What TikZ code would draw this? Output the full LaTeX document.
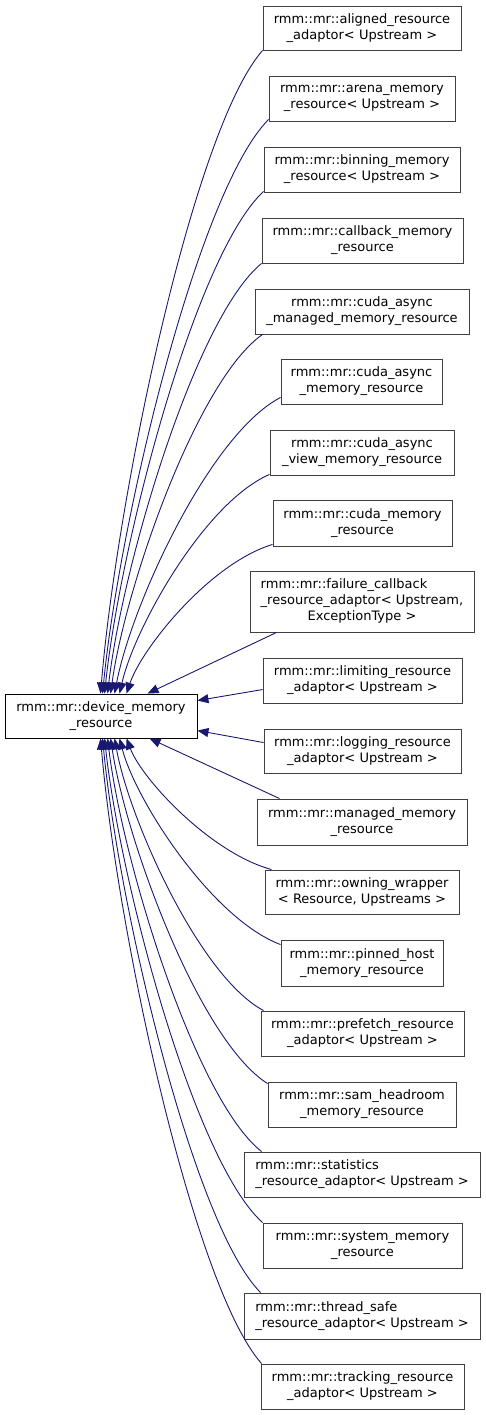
\documentclass[tikz,border=0pt]{standalone}
\usepackage{fontspec}
\setmainfont{DejaVu Sans}
\usetikzlibrary{arrows.meta,calc}
\definecolor{edgeblue}{HTML}{191970}
\definecolor{boxgray}{HTML}{404040}
\begin{document}
\begin{tikzpicture}[x=1pt,y=-1pt,
  font=\fontsize{13}{16}\selectfont,
  box/.style={draw=boxgray,line width=0.9pt,fill=white,inner sep=0pt,align=center},
  basebox/.style={box,draw=black},
  edge/.style={draw=edgeblue,line width=0.9pt,-{Triangle[length=11pt,width=9pt]}}]
\useasboundingbox (0,0) rectangle (485,1415);
\newcommand\bx[7][box]{\node[#1,minimum width={#5pt-#3pt},minimum height={#6pt-#4pt}] (#2) at ({(#3+#5)/2},{(#4+#6)/2}) {#7};}
\bx[basebox]{base}{5}{694}{197}{738}{rmm::mr::device\_memory\\\_resource}
\bx{c1}{263}{6}{461}{50}{rmm::mr::aligned\_resource\\\_adaptor< Upstream >}
\bx{c2}{269}{76}{455}{121}{rmm::mr::arena\_memory\\\_resource< Upstream >}
\bx{c3}{264}{147}{460}{192}{rmm::mr::binning\_memory\\\_resource< Upstream >}
\bx{c4}{262}{218}{463}{263}{rmm::mr::callback\_memory\\\_resource}
\bx{c5}{255}{289}{469}{334}{rmm::mr::cuda\_async\\\_managed\_memory\_resource}
\bx{c6}{281}{359}{442}{404}{rmm::mr::cuda\_async\\\_memory\_resource}
\bx{c7}{270}{430}{454}{475}{rmm::mr::cuda\_async\\\_view\_memory\_resource}
\bx{c8}{273}{500}{452}{546}{rmm::mr::cuda\_memory\\\_resource}
\bx{c9}{250}{571}{474}{632}{\begin{tabular}{@{}l@{}}rmm::mr::failure\_callback\\\_resource\_adaptor< Upstream,\\\multicolumn{1}{@{}c@{}}{ExceptionType >}\end{tabular}}
\bx{c10}{263}{658}{462}{703}{rmm::mr::limiting\_resource\\\_adaptor< Upstream >}
\bx{c11}{264}{729}{461}{773}{rmm::mr::logging\_resource\\\_adaptor< Upstream >}
\bx{c12}{257}{799}{467}{845}{rmm::mr::managed\_memory\\\_resource}
\bx{c13}{265}{870}{459}{914}{rmm::mr::owning\_wrapper\\< Resource, Upstreams >}
\bx{c14}{281}{940}{443}{986}{rmm::mr::pinned\_host\\\_memory\_resource}
\bx{c15}{261}{1011}{464}{1056}{rmm::mr::prefetch\_resource\\\_adaptor< Upstream >}
\bx{c16}{268}{1082}{456}{1127}{rmm::mr::sam\_headroom\\\_memory\_resource}
\bx[box,align=left]{c17}{244}{1152}{480}{1197}{rmm::mr::statistics\\\_resource\_adaptor< Upstream >}
\bx{c18}{263}{1223}{462}{1268}{rmm::mr::system\_memory\\\_resource}
\bx[box,align=left]{c19}{244}{1293}{480}{1339}{rmm::mr::thread\_safe\\\_resource\_adaptor< Upstream >}
\bx{c20}{261}{1364}{464}{1409}{rmm::mr::tracking\_resource\\\_adaptor< Upstream >}
% upper curved edges
\draw[edge] (c1.south west) .. controls +(-70,80) and +(16,-193) .. ($(base.north west)+(96,0)$);
\draw[edge] ($(c2.south west)+(0,-2)$) .. controls +(-71,72) and +(17,-173) .. ($(base.north west)+(98,0)$);
\draw[edge] ($(c3.south west)+(0,-1)$) .. controls +(-68,63) and +(16,-151) .. ($(base.north west)+(100,0)$);
\draw[edge] (c4.south west) .. controls +(-66,54) and +(15,-129) .. ($(base.north west)+(103,0)$);
\draw[edge] ($(c5.south west)+(8,0)$) .. controls +(-65,45) and +(15,-108) .. ($(base.north west)+(106,0)$);
\draw[edge] ($(c6.south west)+(0,-7)$) .. controls +(-71,37) and +(17,-89) .. ($(base.north west)+(110,0)$);
\draw[edge] ($(c7.south west)+(0,-1)$) .. controls +(-65,28) and +(15,-66) .. ($(base.north west)+(115,0)$);
\draw[edge] ($(c8.south west)+(0,-2)$) .. controls +(-63,19) and +(15,-45) .. ($(base.north west)+(122,0)$);
% straight edges
\draw[edge] ($(c9.south west)+(27,0)$) -- ($(base.north west)+(143,0)$);
\draw[edge] ($(c10.north west)+(0,32)$) -- ($(base.north east)+(0,7)$);
\draw[edge] ($(c11.north west)+(0,14)$) -- ($(base.north east)+(0,37)$);
\draw[edge] ($(c12.north west)+(23,0)$) -- ($(base.south west)+(145,0)$);
% lower curved edges
\draw[edge] ($(c13.north west)+(7,0)$) .. controls +(-62,-17) and +(15,40) .. ($(base.south west)+(122,0)$);
\draw[edge] ($(c14.north west)+(0,5)$) .. controls +(-69,-26) and +(16,62) .. ($(base.south west)+(115,0)$);
\draw[edge] ($(c15.north west)+(3,0)$) .. controls +(-64,-34) and +(15,82) .. ($(base.south west)+(110,0)$);
\draw[edge] ($(c16.north west)+(0,2)$) .. controls +(-68,-43) and +(16,104) .. ($(base.south west)+(106,0)$);
\draw[edge] ($(c17.north west)+(18,0)$) .. controls +(-66,-52) and +(15,124) .. ($(base.south west)+(103,0)$);
\draw[edge] (c18.north west) .. controls +(-68,-61) and +(16,146) .. ($(base.south west)+(100,0)$);
\draw[edge] ($(c19.north west)+(17,0)$) .. controls +(-68,-69) and +(16,167) .. ($(base.south west)+(98,0)$);
\draw[edge] ($(c20.north west)+(1,0)$) .. controls +(-69,-78) and +(16,188) .. ($(base.south west)+(96,0)$);
\end{tikzpicture}
\end{document}
